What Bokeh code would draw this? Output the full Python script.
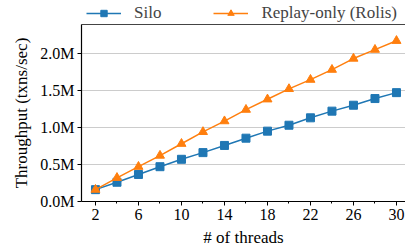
from bokeh.plotting import figure
from bokeh.layouts import column
from bokeh.models import (Legend, LegendItem, FixedTicker, Range1d, CustomJSTickFormatter,
                          LinearAxis)
from bokeh.embed import file_html
from bokeh.resources import INLINE

threads = [2, 4, 6, 8, 10, 12, 14, 16, 18, 20, 22, 24, 26, 28, 30]
silo = [0.16, 0.26, 0.365, 0.47, 0.57, 0.66, 0.757, 0.855, 0.95, 1.03, 1.13, 1.22, 1.30, 1.39, 1.47]
rolis = [0.16, 0.32, 0.47, 0.62, 0.78, 0.94, 1.085, 1.24, 1.38, 1.52, 1.645, 1.78, 1.93, 2.05, 2.17]
series_names = ["Silo", "Replay-only (Rolis)"]
x_ticks = [2, 6, 10, 14, 18, 22, 26, 30]
x_minor = [4, 8, 12, 16, 20, 24, 28]
y_ticks = [0.0, 0.5, 1.0, 1.5, 2.0]

FONT = "Liberation Serif"
BLUE = "#1f77b4"
ORANGE = "#ff7f0e"


def draw_series(fig):
    r = [fig.line(threads, silo, color=BLUE, line_width=1.5),
         fig.scatter(threads, silo, marker="square", size=8, color=BLUE),
         fig.line(threads, rolis, color=ORANGE, line_width=1.5),
         fig.scatter(threads, rolis, marker="triangle", size=9, color=ORANGE)]
    return r


# ---- main plot ----
p = figure(width=405, height=227, output_backend="svg", toolbar_location=None,
           x_range=Range1d(0.7, 30.84), y_range=Range1d(0, 2.39),
           min_border_left=81, min_border_right=0, min_border_top=1, min_border_bottom=49)
draw_series(p)

p.xaxis.ticker = FixedTicker(ticks=x_ticks, minor_ticks=x_minor)
p.yaxis.ticker = FixedTicker(ticks=y_ticks, minor_ticks=[])
p.yaxis.formatter = CustomJSTickFormatter(code="return tick.toFixed(1) + 'M';")

for ax in (p.xaxis[0], p.yaxis[0]):
    ax.axis_line_color = "black"
    ax.axis_line_width = 1.2
    ax.major_tick_line_color = "black"
    ax.minor_tick_line_color = "black"
    ax.major_tick_in = 0
    ax.major_tick_out = 4
    ax.minor_tick_in = 0
    ax.minor_tick_out = 2
    ax.major_label_text_font = FONT
    ax.major_label_text_font_size = "16px"
    ax.major_label_text_color = "black"
    ax.axis_label_text_font = FONT
    ax.axis_label_text_font_size = "17px"
    ax.axis_label_text_font_style = "normal"
    ax.axis_label_text_color = "black"

p.xaxis.axis_label = "# of threads"
p.yaxis.axis_label = "Throughput (txns/sec)"
p.xaxis.major_label_standoff = 3
p.yaxis.major_label_standoff = 3
p.xaxis.axis_label_standoff = 5
p.yaxis.axis_label_standoff = 6

p.xgrid.grid_line_color = None
p.ygrid.grid_line_color = "#cccccc"
p.ygrid.grid_line_width = 1

# top spine only (no right spine, as in the reference)
p.outline_line_color = None
top = LinearAxis(ticker=FixedTicker(ticks=[]), axis_line_color="#444444", axis_line_width=1.2,
                 major_tick_in=0, major_tick_out=0, minor_tick_in=0, minor_tick_out=0,
                 major_label_text_font_size="0px", major_label_standoff=0)
p.add_layout(top, "above")

# ---- legend strip (series drawn off-range, only the legend shows) ----
lg = figure(width=405, height=23, output_backend="svg", toolbar_location=None,
            x_axis_type=None, y_axis_type=None,
            x_range=Range1d(-1, 0), y_range=Range1d(-1, 0),
            min_border_left=81, min_border_right=0, min_border_top=0, min_border_bottom=0)
lg.outline_line_color = None
lg.grid.grid_line_color = None
k1, s1, k2, s2 = draw_series(lg)

legend = Legend(items=[LegendItem(label=series_names[0], renderers=[k1, s1]),
                       LegendItem(label=series_names[1], renderers=[k2, s2])],
                orientation="horizontal", location=(5, 0),
                border_line_color=None, background_fill_alpha=0,
                label_text_font=FONT, label_text_font_size="17px",
                glyph_width=35, glyph_height=16, label_height=16,
                label_standoff=13, spacing=52, padding=4, margin=0)
lg.add_layout(legend, "center")

layout = column(lg, p, spacing=0)
open("out.html", "w").write(file_html(layout, INLINE))
